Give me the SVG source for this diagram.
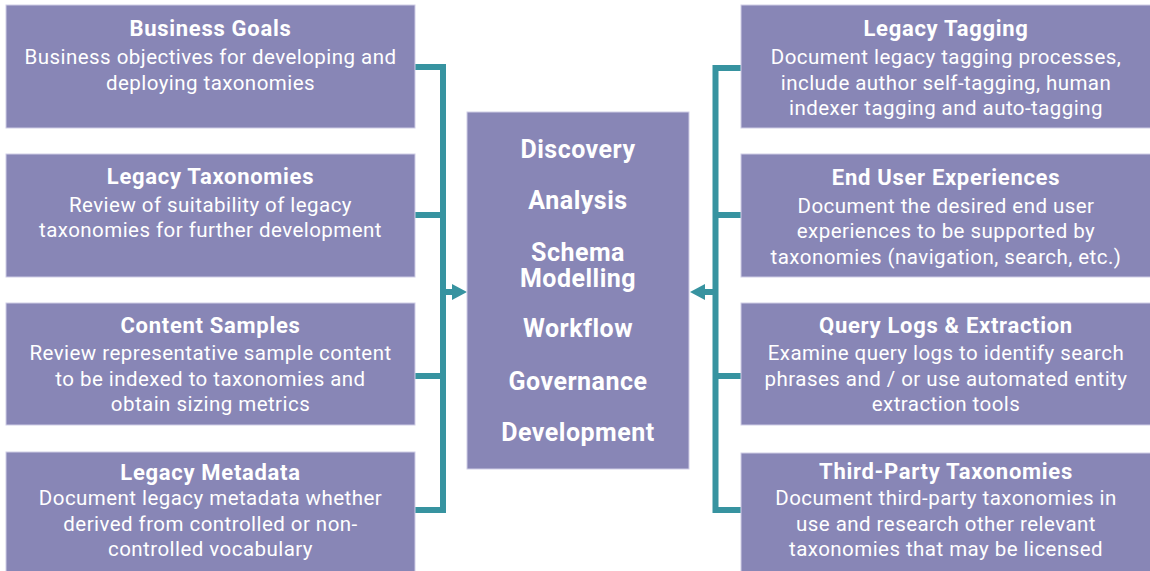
<svg xmlns="http://www.w3.org/2000/svg" width="1150" height="571" viewBox="0 0 1150 571">
<defs>
<style>
.box{fill:#8886B6;stroke:#CFCDE6;stroke-width:1}
.t{font-family:Roboto,"Liberation Sans",sans-serif;font-weight:bold;font-size:22px;letter-spacing:0.7px;fill:#FFFFFF;text-anchor:middle}
.b{font-family:Roboto,"Liberation Sans",sans-serif;font-size:20.5px;letter-spacing:0.45px;fill:#FFFFFF;text-anchor:middle}
.c{font-family:Roboto,"Liberation Sans",sans-serif;font-weight:bold;font-size:25px;letter-spacing:0.5px;fill:#FFFFFF;text-anchor:middle}
.ln{fill:none;stroke:#3793A0;stroke-width:6;stroke-linejoin:miter;stroke-linecap:butt}
.ah{fill:#3793A0}
</style>
</defs>
<rect width="1150" height="571" fill="#FFFFFF"/>
<g id="connectors">
<path class="ln" d="M415,67 H443 V510 H415"/>
<path class="ln" d="M415,215 H443"/>
<path class="ln" d="M415,376 H443"/>
<path class="ln" d="M443,292 H454"/>
<polygon class="ah" points="452,284 467,292 452,300"/>
<path class="ln" d="M741,68 H715.5 V510 H741"/>
<path class="ln" d="M741,215 H715.5"/>
<path class="ln" d="M741,376 H715.5"/>
<path class="ln" d="M715.5,292 H703"/>
<polygon class="ah" points="705,284 690,292 705,300"/>
</g>
<g id="business-goals">
<rect class="box" x="6" y="5" width="409" height="123"/>
<text class="t" x="210.5" y="36">Business Goals</text>
<text class="b" x="210.5" y="64">Business objectives for developing and</text>
<text class="b" x="210.5" y="89.5">deploying taxonomies</text>
</g>
<g id="legacy-taxonomies">
<rect class="box" x="6" y="154" width="409" height="123"/>
<text class="t" x="210.5" y="184">Legacy Taxonomies</text>
<text class="b" x="210.5" y="211.5">Review of suitability of legacy</text>
<text class="b" x="210.5" y="237">taxonomies for further development</text>
</g>
<g id="content-samples">
<rect class="box" x="6" y="303" width="409" height="122"/>
<text class="t" x="210.5" y="333">Content Samples</text>
<text class="b" x="210.5" y="360">Review representative sample content</text>
<text class="b" x="210.5" y="385.5">to be indexed to taxonomies and</text>
<text class="b" x="210.5" y="411">obtain sizing metrics</text>
</g>
<g id="legacy-metadata">
<rect class="box" x="6" y="452" width="409" height="125"/>
<text class="t" x="210.5" y="480">Legacy Metadata</text>
<text class="b" x="210.5" y="505">Document legacy metadata whether</text>
<text class="b" x="210.5" y="530.5">derived from controlled or non-</text>
<text class="b" x="210.5" y="556">controlled vocabulary</text>
</g>
<g id="center">
<rect class="box" x="467" y="112" width="222" height="357"/>
<text class="c" x="578" y="158">Discovery</text>
<text class="c" x="578" y="209">Analysis</text>
<text class="c" x="578" y="261">Schema</text>
<text class="c" x="578" y="287">Modelling</text>
<text class="c" x="578" y="337">Workflow</text>
<text class="c" x="578" y="390">Governance</text>
<text class="c" x="578" y="441">Development</text>
</g>
<g id="legacy-tagging">
<rect class="box" x="741" y="5" width="412" height="123"/>
<text class="t" x="946" y="36">Legacy Tagging</text>
<text class="b" x="946" y="64">Document legacy tagging processes,</text>
<text class="b" x="946" y="89.5">include author self-tagging, human</text>
<text class="b" x="946" y="115">indexer tagging and auto-tagging</text>
</g>
<g id="end-user-experiences">
<rect class="box" x="741" y="154" width="412" height="123"/>
<text class="t" x="946" y="185">End User Experiences</text>
<text class="b" x="946" y="212.5">Document the desired end user</text>
<text class="b" x="946" y="238">experiences to be supported by</text>
<text class="b" x="946" y="264">taxonomies (navigation, search, etc.)</text>
</g>
<g id="query-logs">
<rect class="box" x="741" y="303" width="412" height="122"/>
<text class="t" x="946" y="333">Query Logs &amp; Extraction</text>
<text class="b" x="946" y="360">Examine query logs to identify search</text>
<text class="b" x="946" y="385.5">phrases and / or use automated entity</text>
<text class="b" x="946" y="411">extraction tools</text>
</g>
<g id="third-party-taxonomies">
<rect class="box" x="741" y="453" width="412" height="125"/>
<text class="t" x="946" y="479">Third-Party Taxonomies</text>
<text class="b" x="946" y="505">Document third-party taxonomies in</text>
<text class="b" x="946" y="530.5">use and research other relevant</text>
<text class="b" x="946" y="556">taxonomies that may be licensed</text>
</g>
</svg>
